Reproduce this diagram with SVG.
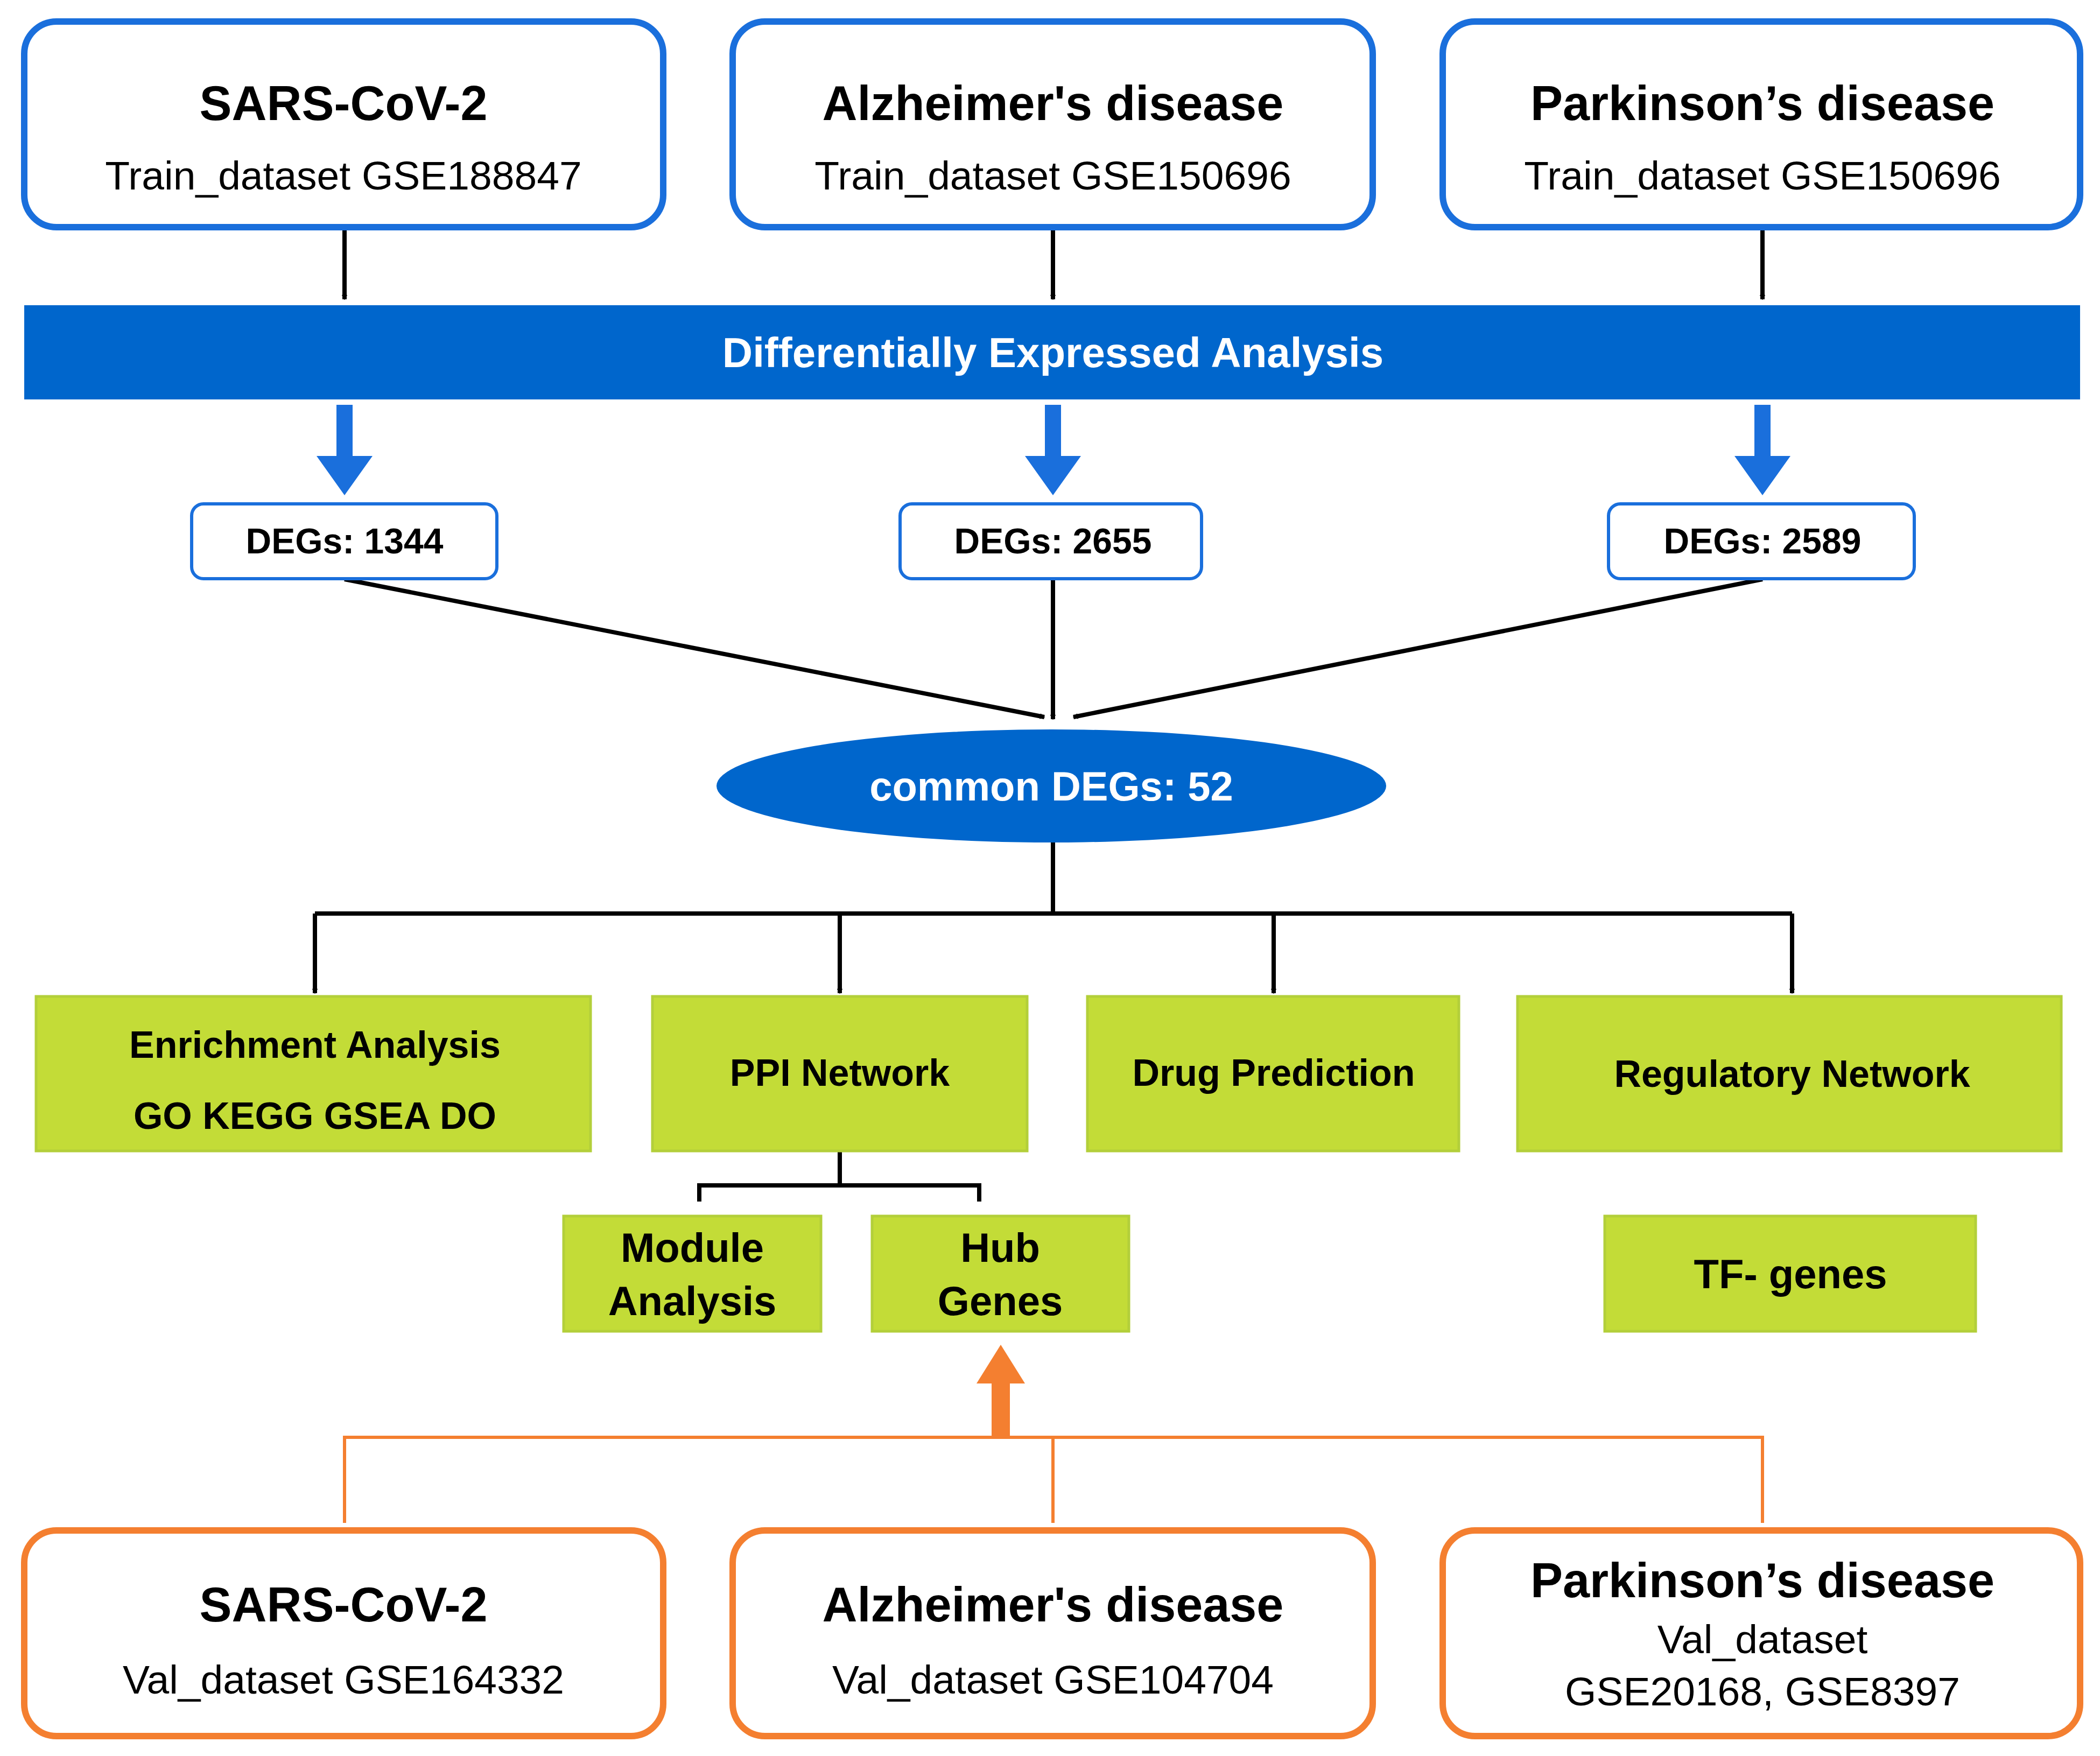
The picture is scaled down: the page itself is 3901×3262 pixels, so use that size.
<svg xmlns="http://www.w3.org/2000/svg" width="3901" height="3262" viewBox="0 0 3901 3262">
<style>
text{font-family:"Liberation Sans",Arial,sans-serif;text-anchor:middle;dominant-baseline:central}
.b{font-weight:bold}
.top{fill:#fff;stroke:#1a6fdc;stroke-width:12}
.bot{fill:#fff;stroke:#f47f30;stroke-width:12}
.deg{fill:#fff;stroke:#1a6fdc;stroke-width:6}
.g{fill:#c3dc37;stroke:#b3cf3a;stroke-width:5}
.ln{stroke:#000;stroke-width:8;fill:none}
.ol{stroke:#f47f30;stroke-width:6;fill:none}
</style>
<defs>
<marker id="v" viewBox="0 0 20 20" refX="18" refY="10" markerWidth="9" markerHeight="9" markerUnits="userSpaceOnUse" orient="auto" style="overflow:visible">
<path d="M0,0 L18,10 L0,20" fill="none" stroke="#000" stroke-width="3"/>
</marker>
</defs>
<rect width="3901" height="3262" fill="#fff"/>
<g id="connectors">
<line class="ln" x1="640" y1="428" x2="640" y2="556" marker-end="url(#v)"/>
<line class="ln" x1="1956" y1="428" x2="1956" y2="556" marker-end="url(#v)"/>
<line class="ln" x1="3274" y1="428" x2="3274" y2="556" marker-end="url(#v)"/>
<path d="M625,752 h30 v95 h37 l-52,73 l-52,-73 h37z" fill="#1a6fdc"/>
<path d="M1941,752 h30 v95 h37 l-52,73 l-52,-73 h37z" fill="#1a6fdc"/>
<path d="M3259,752 h30 v95 h37 l-52,73 l-52,-73 h37z" fill="#1a6fdc"/>
<line class="ln" x1="640" y1="1076" x2="1940" y2="1332" marker-end="url(#v)"/>
<line class="ln" x1="1956" y1="1076" x2="1956" y2="1336" marker-end="url(#v)"/>
<line class="ln" x1="3274" y1="1076" x2="1994" y2="1332" marker-end="url(#v)"/>
<line class="ln" x1="1956" y1="1563" x2="1956" y2="1697"/>
<line class="ln" x1="585" y1="1697" x2="3329" y2="1697"/>
<line class="ln" x1="585" y1="1697" x2="585" y2="1845" marker-end="url(#v)"/>
<line class="ln" x1="1560" y1="1697" x2="1560" y2="1845" marker-end="url(#v)"/>
<line class="ln" x1="2366" y1="1697" x2="2366" y2="1845" marker-end="url(#v)"/>
<line class="ln" x1="3329" y1="1697" x2="3329" y2="1845" marker-end="url(#v)"/>
<path class="ln" d="M1560,2138 V2202 M1299,2232 V2202 H1819 V2232" stroke-width="6"/>
<path class="ol" d="M640,2829 V2670 H3274 V2829 M1956,2670 V2829"/>
<path d="M1842,2670 v-100 h-28 l45,-72 l45,72 h-28 v100z" fill="#f47f30"/>
</g>
<g id="top1"><rect class="top" x="45" y="40" width="1187" height="382" rx="60"/><text class="b" x="638" y="192" font-size="90">SARS-CoV-2</text><text x="638" y="326" font-size="75">Train_dataset GSE188847</text></g>
<g id="top2"><rect class="top" x="1361" y="40" width="1189" height="382" rx="60"/><text class="b" x="1956" y="192" font-size="90">Alzheimer's disease</text><text x="1956" y="326" font-size="75">Train_dataset GSE150696</text></g>
<g id="top3"><rect class="top" x="2680" y="40" width="1184" height="382" rx="60"/><text class="b" x="3274" y="192" font-size="90">Parkinson’s disease</text><text x="3274" y="326" font-size="75">Train_dataset GSE150696</text></g>
<g id="dea"><rect x="45" y="567" width="3819" height="175" fill="#0066cc"/><text class="b" x="1956" y="655" font-size="78" fill="#fff">Differentially Expressed Analysis</text></g>
<g id="deg1"><rect class="deg" x="356" y="936" width="567" height="139" rx="22"/><text class="b" x="640" y="1005" font-size="66">DEGs: 1344</text></g>
<g id="deg2"><rect class="deg" x="1672" y="936" width="560" height="139" rx="22"/><text class="b" x="1956" y="1005" font-size="66">DEGs: 2655</text></g>
<g id="deg3"><rect class="deg" x="2988" y="936" width="568" height="139" rx="22"/><text class="b" x="3274" y="1005" font-size="66">DEGs: 2589</text></g>
<g id="common"><ellipse cx="1953" cy="1460" rx="622" ry="105" fill="#0066cc"/><text class="b" x="1953" y="1460" font-size="76" fill="#fff">common DEGs: 52</text></g>
<g id="enrich"><rect class="g" x="67" y="1851" width="1030" height="287"/><text class="b" x="585" y="1941" font-size="70">Enrichment Analysis</text><text class="b" x="585" y="2073" font-size="70">GO KEGG GSEA DO</text></g>
<g id="ppi"><rect class="g" x="1212" y="1851" width="696" height="287"/><text class="b" x="1560" y="1993" font-size="70">PPI Network</text></g>
<g id="drug"><rect class="g" x="2020" y="1851" width="690" height="287"/><text class="b" x="2366" y="1993" font-size="70">Drug Prediction</text></g>
<g id="reg"><rect class="g" x="2819" y="1851" width="1010" height="287"/><text class="b" x="3329" y="1995" font-size="70">Regulatory Network</text></g>
<g id="module"><rect class="g" x="1047" y="2259" width="478" height="214"/><text class="b" x="1286" y="2317" font-size="76">Module</text><text class="b" x="1286" y="2416" font-size="76">Analysis</text></g>
<g id="hub"><rect class="g" x="1620" y="2259" width="477" height="214"/><text class="b" x="1858" y="2317" font-size="76">Hub</text><text class="b" x="1858" y="2416" font-size="76">Genes</text></g>
<g id="tf"><rect class="g" x="2981" y="2259" width="689" height="214"/><text class="b" x="3326" y="2366" font-size="76">TF- genes</text></g>
<g id="bot1"><rect class="bot" x="45" y="2843" width="1187" height="382" rx="60"/><text class="b" x="638" y="2981" font-size="90">SARS-CoV-2</text><text x="638" y="3120" font-size="75">Val_dataset GSE164332</text></g>
<g id="bot2"><rect class="bot" x="1361" y="2843" width="1189" height="382" rx="60"/><text class="b" x="1956" y="2981" font-size="90">Alzheimer's disease</text><text x="1956" y="3120" font-size="75">Val_dataset GSE104704</text></g>
<g id="bot3"><rect class="bot" x="2680" y="2843" width="1184" height="382" rx="60"/><text class="b" x="3274" y="2936" font-size="90">Parkinson’s disease</text><text x="3274" y="3045" font-size="75">Val_dataset</text><text x="3274" y="3142" font-size="75">GSE20168, GSE8397</text></g>
</svg>
